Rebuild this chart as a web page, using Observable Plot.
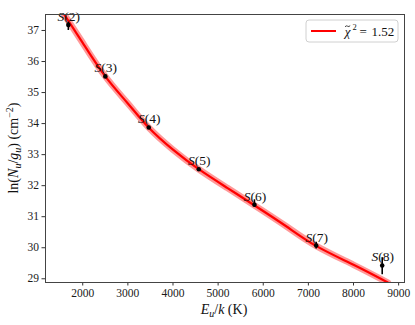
<!DOCTYPE html>
<html>
<head>
<meta charset="utf-8">
<script src="https://cdn.jsdelivr.net/npm/d3@7"></script>
<script src="https://cdn.jsdelivr.net/npm/@observablehq/plot@0.6"></script>
<style>
  html, body { margin: 0; padding: 0; background: white; }
  #chart { position: relative; width: 415px; height: 325px; }
</style>
</head>
<body>
<div id="chart"></div>
<script>
// Data points (upper-level energy, ln column density per degeneracy)
const labels  = ["2", "3", "4", "5", "6", "7", "8"];
const energy  = [1681, 2501, 3463, 4572, 5805, 7173, 8636];
const lnN     = [37.18, 35.52, 33.875, 32.53, 31.385, 30.07, 29.43];
const errUp   = [0.09, 0.04, 0.04, 0.04, 0.16, 0.11, 0.25];
const errDown = [0.18, 0.04, 0.04, 0.04, 0.08, 0.11, 0.30];

// Fit curve
const fitE  = [1590, 2000, 2500, 3000, 3460, 4000, 4570, 5200, 5800, 6500, 7170, 8000, 8760];
const fitLn = [37.515, 36.60, 35.52, 34.65, 33.875, 33.16, 32.53, 31.93, 31.37, 30.70, 30.06, 29.45, 28.88];

const xTicks = [2000, 3000, 4000, 5000, 6000, 7000, 8000, 9000];
const yTicks = [29, 30, 31, 32, 33, 34, 35, 36, 37];
const chiLabel = "1.52";

const pts = energy.map((e, i) => ({E: e, y: lnN[i], hi: lnN[i] + errUp[i], lo: lnN[i] - errDown[i], label: labels[i]}));
const fit = fitE.map((e, i) => ({E: e, y: fitLn[i]}));

const serif = "Liberation Serif, DejaVu Serif, serif";

const plot = Plot.plot({
  width: 415,
  height: 325,
  marginLeft: 45,
  marginRight: 11,
  marginTop: 14,
  marginBottom: 43,
  style: "font-family: 'Liberation Serif', serif; font-size: 11.5px; background: white; color: #1a1a1a;",
  x: {domain: [1175, 9130]},
  y: {domain: [28.88, 37.515]},
  marks: [
    Plot.line(fit, {x: "E", y: "y", stroke: "red", strokeWidth: 6.5, strokeOpacity: 0.4, curve: "natural", clip: true}),
    Plot.line(fit, {x: "E", y: "y", stroke: "red", strokeWidth: 2.2, curve: "natural", clip: true}),
    Plot.ruleX(pts, {x: "E", y1: "lo", y2: "hi", stroke: "black", strokeWidth: 1.6}),
    Plot.dot(pts, {x: "E", y: "y", r: 2.3, fill: "black"}),
    Plot.text(pts, {x: "E", y: "y", text: () => "S", fontFamily: serif, fontStyle: "italic", textAnchor: "end", lineAnchor: "bottom", dx: -4, dy: -4, fontSize: 13.5, fill: "#111"}),
    Plot.text(pts, {x: "E", y: "y", text: d => "(" + d.label + ")", fontFamily: serif, textAnchor: "start", lineAnchor: "bottom", dx: -4, dy: -4, fontSize: 13.5, fill: "#111"}),
    Plot.axisX({ticks: xTicks, tickFormat: d3.format("d"), tickSize: 3.5, tickPadding: 3, label: null, stroke: "#333", fontFamily: serif, fontSize: 11.5, fill: "#1a1a1a"}),
    Plot.axisY({ticks: yTicks, tickFormat: d3.format("d"), tickSize: 3.5, tickPadding: 3, label: null, stroke: "#333", fontFamily: serif, fontSize: 11.5, fill: "#1a1a1a"}),
    Plot.frame({stroke: "#444", strokeWidth: 1})
  ]
});

document.getElementById("chart").appendChild(plot);

// Axis titles and legend (math-style text)
const svg = d3.select(plot);

const ylab = svg.append("text")
  .attr("transform", "translate(18,148) rotate(-90)")
  .attr("text-anchor", "middle")
  .attr("font-family", serif)
  .attr("font-size", 14)
  .attr("fill", "#111");
ylab.append("tspan").text("ln(");
ylab.append("tspan").attr("font-style", "italic").text("N");
ylab.append("tspan").attr("font-style", "italic").attr("font-size", 10).attr("dy", 3).text("u");
ylab.append("tspan").attr("dy", -3).text("/");
ylab.append("tspan").attr("font-style", "italic").text("g");
ylab.append("tspan").attr("font-style", "italic").attr("font-size", 10).attr("dy", 3).text("u");
ylab.append("tspan").attr("dy", -3).text(") (cm");
ylab.append("tspan").attr("font-size", 10).attr("dy", -5).text("−2");
ylab.append("tspan").attr("dy", 5).text(")");

const xlab = svg.append("text")
  .attr("x", 224).attr("y", 314)
  .attr("text-anchor", "middle")
  .attr("font-family", serif)
  .attr("font-size", 14)
  .attr("fill", "#111");
xlab.append("tspan").attr("font-style", "italic").text("E");
xlab.append("tspan").attr("font-style", "italic").attr("font-size", 10).attr("dy", 3).text("u");
xlab.append("tspan").attr("dy", -3).text("/");
xlab.append("tspan").attr("font-style", "italic").text("k");
xlab.append("tspan").text(" (K)");

const lg = svg.append("g").attr("font-family", serif).attr("fill", "#111").attr("text-anchor", "start");
lg.append("rect").attr("x", 306).attr("y", 20).attr("width", 92).attr("height", 22)
  .attr("rx", 3).attr("fill", "white").attr("stroke", "#d0d0d0").attr("stroke-width", 1);
lg.append("line").attr("x1", 311).attr("x2", 336).attr("y1", 31).attr("y2", 31)
  .attr("stroke", "red").attr("stroke-width", 2);
lg.append("text").attr("x", 347.5).attr("y", 35.5).attr("font-size", 13).attr("font-style", "italic")
  .attr("text-anchor", "middle").text("χ");
lg.append("text").attr("x", 352.5).attr("y", 30).attr("font-size", 8.5).text("2");
lg.append("text").attr("x", 359.5).attr("y", 35.5).attr("font-size", 13).text("=");
lg.append("text").attr("x", 371.5).attr("y", 35.5).attr("font-size", 13).text(chiLabel);
// tilde accent over chi
lg.append("path").attr("d", "M345,26.8 q1.2,-1.6 2.6,-0.6 t2.6,-0.6")
  .attr("fill", "none").attr("stroke", "#111").attr("stroke-width", 0.8);
</script>
</body>
</html>
